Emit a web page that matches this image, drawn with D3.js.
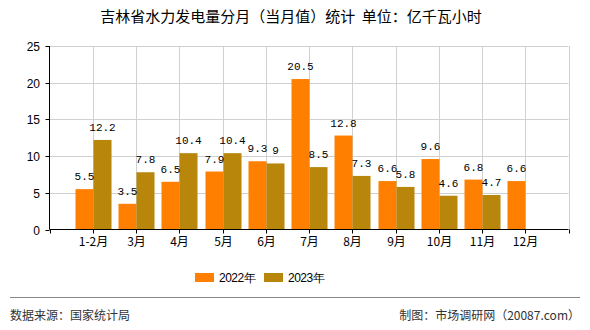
<!DOCTYPE html>
<html><head><meta charset="utf-8">
<script src="https://cdn.jsdelivr.net/npm/d3@7"></script>
<style>body{margin:0;background:#fff}svg{display:block}</style>
</head><body>
<script>
const categories = ["1-2月","3月","4月","5月","6月","7月","8月","9月","10月","11月","12月"];
const series2022 = [5.5,3.5,6.5,7.9,9.3,20.5,12.8,6.6,9.6,6.8,6.6];
const series2023 = [12.2,7.8,10.4,10.4,9,8.5,7.3,5.8,4.6,4.7,null];
const seriesNames = ["2022年","2023年"];
const colors = ["#FF8000","#B8860B"];
const yTicks = [0,5,10,15,20,25];

(function(){
const W=590,H=330;
const svg=d3.select("body").append("svg").attr("width",W).attr("height",H);
const pL=49.5,pR=568.5,pT=46,pB=229.5;
const x=d3.scaleLinear().domain([-1,categories.length]).range([pL,pR]);
const y=d3.scaleLinear().domain([0,25]).range([pB,pT]);
const gridC="#d0d0d0";

svg.append("text").attr("x",291).attr("y",22).attr("text-anchor","middle")
 .attr("font-family","Noto Sans CJK SC").attr("font-size",15).attr("fill","#000")
 .attr("xml:space","preserve").style("white-space","pre")
 .text("吉林省水力发电量分月（当月值）统计  单位：亿千瓦小时");

const g=svg.append("g");
yTicks.filter(d=>d>0).forEach(t=>{
 g.append("line").attr("x1",pL).attr("x2",pR).attr("y1",Math.round(y(t))+0.5).attr("y2",Math.round(y(t))+0.5).attr("stroke",gridC);
});
d3.range(0,categories.length+1).forEach(i=>{
 const xx=Math.round(x(i))+0.5;
 g.append("line").attr("x1",xx).attr("x2",xx).attr("y1",pT).attr("y2",pB).attr("stroke",gridC);
});

const bw=18;
const data=[series2022,series2023];
data.forEach((s,si)=>{
 s.forEach((v,i)=>{
  if(v==null) return;
  const cx=Math.round(x(i))+0.5;
  const x0= si===0? cx-bw : cx;
  svg.append("rect").attr("x",x0).attr("y",y(v)).attr("width",bw).attr("height",pB-y(v)).attr("fill",colors[si]);
 });
});
data.forEach((s,si)=>{
 s.forEach((v,i)=>{
  if(v==null) return;
  const cx=Math.round(x(i))+0.5;
  const mx= si===0? cx-bw/2 : cx+bw/2;
  svg.append("text").attr("x",mx).attr("y",y(v)-9).attr("text-anchor","middle")
   .attr("font-family","Liberation Mono, DejaVu Sans Mono, monospace").attr("font-size",11).attr("fill","#000")
   .text(v);
 });
});

const ax=svg.append("g");
ax.append("line").attr("x1",pL).attr("x2",pL).attr("y1",pT).attr("y2",pB).attr("stroke","#000");
ax.append("line").attr("x1",pL).attr("x2",pR).attr("y1",pB).attr("y2",pB).attr("stroke","#000");
yTicks.forEach(t=>{
 const yy=Math.round(y(t))+0.5;
 ax.append("line").attr("x1",pL-4).attr("x2",pL).attr("y1",yy).attr("y2",yy).attr("stroke","#000");
 svg.append("text").attr("x",40).attr("y",yy+4).attr("text-anchor","end")
  .attr("font-family","Liberation Sans, Arial, sans-serif").attr("font-size",12).attr("fill","#000").text(t);
});
d3.range(-1,categories.length+1).forEach(i=>{
 const xx=Math.round(x(i))+0.5;
 ax.append("line").attr("x1",xx).attr("x2",xx).attr("y1",pB).attr("y2",pB+4).attr("stroke","#000");
});
categories.forEach((c,i)=>{
 svg.append("text").attr("x",Math.round(x(i))+0.5).attr("y",246).attr("text-anchor","middle")
  .attr("font-family","Noto Sans CJK SC").attr("font-size",12).attr("fill","#000").text(c);
});

const leg=[[195,219],[264,288]];
seriesNames.forEach((n,i)=>{
 svg.append("rect").attr("x",leg[i][0]).attr("y",273).attr("width",19).attr("height",9).attr("fill",colors[i]);
 svg.append("text").attr("x",leg[i][1]).attr("y",282).attr("font-family","Liberation Sans, Arial, sans-serif")
  .attr("font-size",12).attr("letter-spacing",-0.5).attr("fill","#000").text(n);
});

svg.append("line").attr("x1",10).attr("x2",580).attr("y1",297.5).attr("y2",297.5).attr("stroke","#888");
svg.append("text").attr("x",10).attr("y",320).attr("font-family","Noto Sans CJK SC").attr("font-size",12).attr("fill","#333").text("数据来源：国家统计局");
svg.append("text").attr("x",580).attr("y",320).attr("text-anchor","end").attr("font-family","Noto Sans CJK SC").attr("font-size",12).attr("fill","#333").text("制图：市场调研网（20087.com）");
})();
</script>
</body></html>
